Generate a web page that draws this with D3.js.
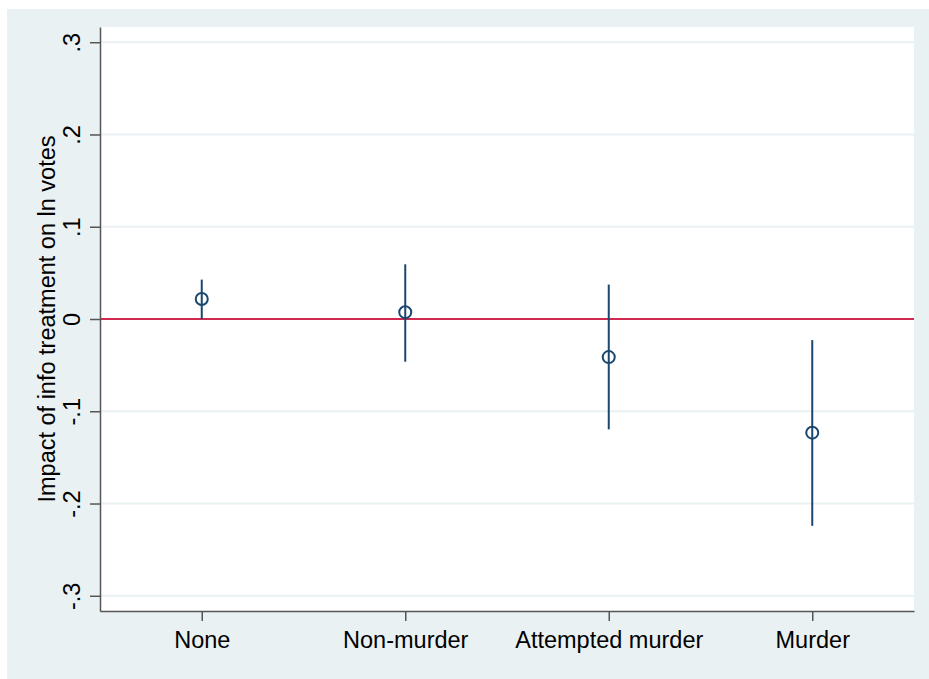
<!DOCTYPE html>
<html>
<head>
<meta charset="utf-8">
<script src="https://cdn.jsdelivr.net/npm/d3@7"></script>
<style>
  body { margin: 0; background: #ffffff; }
  #chart svg { display: block; }
</style>
</head>
<body>
<div id="chart"></div>
<script>
// categories on the x axis
const categories = ['None', 'Non-murder', 'Attempted murder', 'Murder'];
// point estimates and 95% CI bounds
const estimates = [0.0216, 0.0074, -0.0413, -0.1232];
const ciLow = [0.0000, -0.0463, -0.1196, -0.2242];
const ciHigh = [0.0427, 0.0593, 0.0373, -0.0229];
// y axis ticks
const yTicks = [-0.3, -0.2, -0.1, 0, 0.1, 0.2, 0.3];
const yTickLabels = ['-.3', '-.2', '-.1', '0', '.1', '.2', '.3'];

const totalWidth = 929;
const totalHeight = 679;
const margin = { left: 100, right: 15, top: 27, bottom: 68 };
const width = totalWidth - margin.left - margin.right;
const height = totalHeight - margin.top - margin.bottom;

const navy = '#1a476f';
const font = 'Arial, "Liberation Sans", sans-serif';
const fontSize = 23.5;

const svg = d3.select('#chart')
  .append('svg')
  .attr('width', totalWidth)
  .attr('height', totalHeight);

// graph region background
svg.append('rect')
  .attr('x', 7)
  .attr('y', 9)
  .attr('width', totalWidth - 7)
  .attr('height', totalHeight - 9)
  .attr('fill', '#eaf1f3');

const g = svg.append('g')
  .attr('transform', `translate(${margin.left},${margin.top})`);

// plot region
g.append('rect')
  .attr('width', width)
  .attr('height', height)
  .attr('fill', '#ffffff');

const x = d3.scaleLinear()
  .domain([0.5, 4.5])
  .range([0, width]);

const y = d3.scaleLinear()
  .domain([-0.3165, 0.3165])
  .range([height, 0]);

// gridlines
g.append('g')
  .selectAll('line')
  .data(yTicks.filter(d => d !== 0))
  .join('line')
  .attr('x1', 0)
  .attr('x2', width)
  .attr('y1', d => y(d))
  .attr('y2', d => y(d))
  .attr('stroke', '#eaf1f3')
  .attr('stroke-width', 2);

// zero reference line
g.append('line')
  .attr('x1', 0)
  .attr('x2', width)
  .attr('y1', y(0))
  .attr('y2', y(0))
  .attr('stroke', '#d0284f')
  .attr('stroke-width', 2);

// y axis
g.append('g')
  .call(d3.axisLeft(y)
    .tickValues(yTicks)
    .tickFormat((d, i) => yTickLabels[i])
    .tickSize(10)
    .tickSizeOuter(0)
    .tickPadding(0))
  .call(a => a.select('.domain').attr('stroke', '#555').attr('stroke-width', 1.5))
  .call(a => a.selectAll('.tick line').attr('stroke', '#555').attr('stroke-width', 1.5))
  .call(a => a.selectAll('.tick text')
    .attr('x', null)
    .attr('dy', null)
    .attr('font-family', font)
    .attr('font-size', fontSize)
    .attr('fill', '#000')
    .attr('text-anchor', 'middle')
    .attr('transform', 'translate(-20,0) rotate(-90)'));

// x axis
g.append('g')
  .attr('transform', `translate(0,${height})`)
  .call(d3.axisBottom(x)
    .tickValues([1, 2, 3, 4])
    .tickFormat((d, i) => categories[i])
    .tickSize(10)
    .tickSizeOuter(0)
    .tickPadding(10))
  .call(a => a.select('.domain').attr('stroke', '#555').attr('stroke-width', 1.5))
  .call(a => a.selectAll('.tick line').attr('stroke', '#555').attr('stroke-width', 1.5))
  .call(a => a.selectAll('.tick text')
    .attr('font-family', font)
    .attr('font-size', fontSize)
    .attr('fill', '#000'));

// y axis title
svg.append('text')
  .attr('transform', `translate(55,${margin.top + y(0)}) rotate(-90)`)
  .attr('text-anchor', 'middle')
  .attr('font-family', font)
  .attr('font-size', fontSize)
  .attr('fill', '#000')
  .text('Impact of info treatment on ln votes');

// confidence intervals
g.append('g')
  .selectAll('line')
  .data(categories)
  .join('line')
  .attr('x1', (d, i) => x(i + 1))
  .attr('x2', (d, i) => x(i + 1))
  .attr('y1', (d, i) => y(ciLow[i]))
  .attr('y2', (d, i) => y(ciHigh[i]))
  .attr('stroke', navy)
  .attr('stroke-width', 2);

// point estimates
g.append('g')
  .selectAll('circle')
  .data(categories)
  .join('circle')
  .attr('cx', (d, i) => x(i + 1))
  .attr('cy', (d, i) => y(estimates[i]))
  .attr('r', 6)
  .attr('fill', 'none')
  .attr('stroke', navy)
  .attr('stroke-width', 2);
</script>
</body>
</html>
